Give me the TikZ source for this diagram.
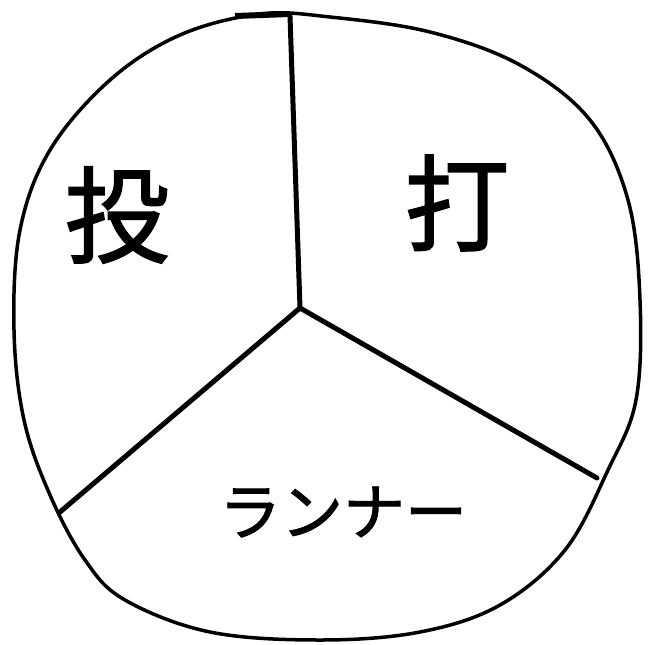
\documentclass[tikz,border=0pt]{standalone}
\usepackage{fontspec}
\newfontfamily\cjk[FakeBold=1.5]{Noto Sans CJK JP}
\begin{document}
\begin{tikzpicture}[x=1pt,y=-1pt,
  rim/.style={line width=3.5pt,line join=round},
  divider/.style={line width=5pt,line cap=round},
  label/.style={font=\cjk}]
\useasboundingbox (0,0) rectangle (648,645);
\fill[white] (0,0) rectangle (648,645);
\draw[rim] plot[smooth cycle,tension=0.6] coordinates {
  (260,14) (330,17) (430,32) (520,65) (590,120) (628,200) (640,300)
  (636,400) (608,470) (565,550) (500,605) (420,632) (320,640)
  (210,632) (125,600) (85,560) (50,495) (24,420) (14,330) (20,230)
  (50,150) (110,80) (180,35)};
\coordinate (c) at (300,308);
\coordinate (top) at (290,16);
\coordinate (ll) at (60,512);
\coordinate (lr) at (597,478);
\draw[divider] (c) -- (top);
\draw[divider] (c) -- (ll);
\draw[divider] (c) -- (lr);
\draw[line width=6pt] (235,16) -- (290,14);
\node[label,font=\cjk\fontsize{105}{105}\selectfont] (tou) at (117,215) {投};
\node[label,font=\cjk\fontsize{105}{105}\selectfont] (da) at (457,203) {打};
\node[label,font=\cjk\fontsize{62}{62}\selectfont] (runner) at (343,512) {ランナー};
\end{tikzpicture}
\end{document}
